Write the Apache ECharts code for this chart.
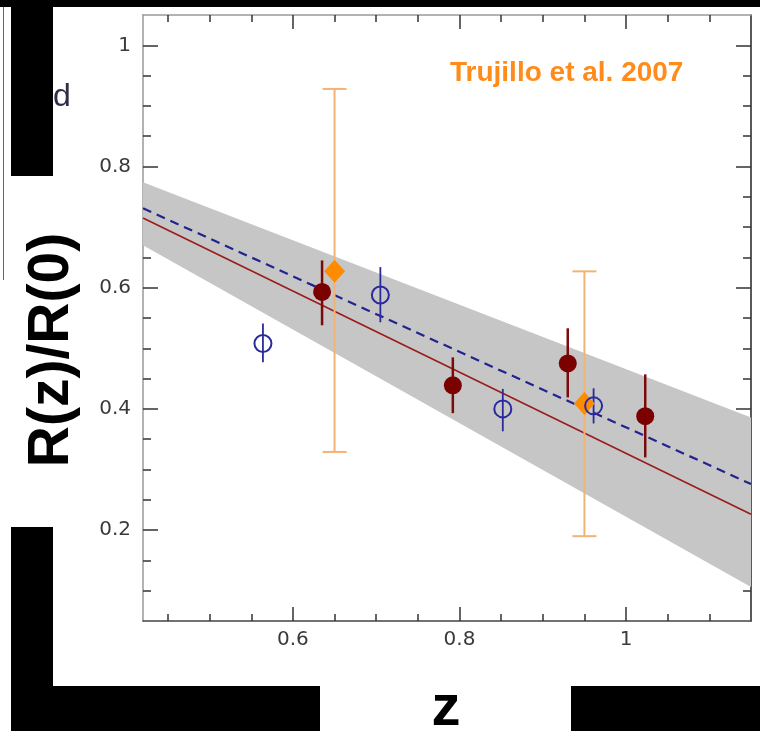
<!DOCTYPE html>
<html>
<head>
<meta charset="utf-8">
<script src="https://cdn.jsdelivr.net/npm/echarts@6/dist/echarts.min.js"></script>
<style>
  html, body { margin: 0; padding: 0; background: #fff; }
  #main { width: 760px; height: 731px; }
</style>
</head>
<body>
<div id="main"></div>
<script>
// axis ticks
var xMajor = [0.6, 0.8, 1];
var xMinor = [0.45, 0.5, 0.55, 0.65, 0.7, 0.75, 0.85, 0.9, 0.95, 1.05, 1.1];
var yMajor = [0.2, 0.4, 0.6, 0.8, 1];
var yMinor = [0.1, 0.15, 0.25, 0.3, 0.35, 0.45, 0.5, 0.55, 0.65, 0.7, 0.75, 0.85, 0.9, 0.95];

// grey band (fit uncertainty)
var bandZ = [0.42, 1.15];
var bandLo = [0.670, 0.106];
var bandHi = [0.774, 0.386];

// fits
var fitZ = [0.42, 1.15];
var fitRed = [0.715, 0.226];
var fitBlue = [0.731, 0.276];

// filled red points
var redZ = [0.635, 0.792, 0.930, 1.023];
var redR = [0.593, 0.439, 0.475, 0.388];
var redLo = [0.538, 0.393, 0.419, 0.320];
var redHi = [0.645, 0.485, 0.533, 0.457];

// open blue points
var blueZ = [0.564, 0.705, 0.852, 0.961];
var blueR = [0.508, 0.588, 0.400, 0.405];
var blueLo = [0.477, 0.543, 0.363, 0.376];
var blueHi = [0.541, 0.634, 0.433, 0.434];

// Trujillo et al. 2007
var orZ = [0.650, 0.950];
var orR = [0.627, 0.409];
var orLo = [0.329, 0.190];
var orHi = [0.928, 0.627];

var myChart = echarts.init(document.getElementById('main'));

function xAx(pos, ticks, len, lineColor, labels) {
    return {
        type: 'value', position: pos, min: 0.42, max: 1.15,
        axisLine: { show: lineColor != null, lineStyle: { color: lineColor || '#000', width: 1.5 } },
        axisTick: { inside: true, length: len, customValues: ticks, lineStyle: { color: '#333', width: 1.5 } },
        axisLabel: labels ? {
            customValues: ticks, margin: 9, color: '#3a3a3a',
            fontFamily: 'DejaVu Sans', fontSize: 20
        } : { show: false },
        splitLine: { show: false }
    };
}
function yAx(pos, ticks, len, lineColor, labels) {
    return {
        type: 'value', position: pos, min: 0.05, max: 1.05,
        axisLine: { show: lineColor != null, lineStyle: { color: lineColor || '#000', width: 1.5 } },
        axisTick: { inside: true, length: len, customValues: ticks, lineStyle: { color: '#333', width: 1.5 } },
        axisLabel: labels ? {
            customValues: ticks, margin: 12, color: '#3a3a3a',
            fontFamily: 'DejaVu Sans', fontSize: 20
        } : { show: false },
        splitLine: { show: false }
    };
}

function pairs(a, b) {
    return a.map(function (v, i) { return [v, b[i]]; });
}
function triples(a, lo, hi) {
    return a.map(function (v, i) { return [v, lo[i], hi[i]]; });
}

// vertical error bars, cap is half width in px (0 = none)
function errBars(data, color, width, cap) {
    return {
        type: 'custom',
        data: data,
        encode: { x: 0, y: [1, 2] },
        z: 3,
        renderItem: function (params, api) {
            var lo = api.coord([api.value(0), api.value(1)]);
            var hi = api.coord([api.value(0), api.value(2)]);
            var st = { stroke: color, lineWidth: width };
            var kids = [{ type: 'line', shape: { x1: lo[0], y1: lo[1], x2: hi[0], y2: hi[1] }, style: st }];
            if (cap) {
                kids.push({ type: 'line', shape: { x1: lo[0] - cap, y1: lo[1], x2: lo[0] + cap, y2: lo[1] }, style: st });
                kids.push({ type: 'line', shape: { x1: hi[0] - cap, y1: hi[1], x2: hi[0] + cap, y2: hi[1] }, style: st });
            }
            return { type: 'group', children: kids };
        }
    };
}

var option = {
    animation: false,
    backgroundColor: '#fff',
    grid: { left: 143, top: 15, right: 9, bottom: 110, containLabel: false },
    xAxis: [
        xAx('bottom', xMajor, 14, '#444', true),
        xAx('bottom', xMinor, 7, null, false),
        xAx('top', xMajor, 14, '#999', false),
        xAx('top', xMinor, 7, null, false)
    ],
    yAxis: [
        yAx('left', yMajor, 15, '#999', true),
        yAx('left', yMinor, 8, null, false),
        yAx('right', yMajor, 15, '#222', false),
        yAx('right', yMinor, 8, null, false)
    ],
    series: [
        {
            type: 'custom',
            data: triples(bandZ, bandLo, bandHi),
            encode: { x: 0, y: [1, 2] },
            z: 1,
            renderItem: function (params, api) {
                var i = params.dataIndex;
                if (i >= bandZ.length - 1) return;
                var pts = [
                    api.coord([bandZ[i], bandLo[i]]),
                    api.coord([bandZ[i + 1], bandLo[i + 1]]),
                    api.coord([bandZ[i + 1], bandHi[i + 1]]),
                    api.coord([bandZ[i], bandHi[i]])
                ];
                return { type: 'polygon', shape: { points: pts }, style: { fill: '#c6c6c6' } };
            }
        },
        {
            type: 'line', data: pairs(fitZ, fitRed), symbol: 'none', z: 2,
            lineStyle: { color: '#9a1c1c', width: 1.6 }
        },
        {
            type: 'line', data: pairs(fitZ, fitBlue), symbol: 'none', z: 2,
            lineStyle: { color: '#23238f', width: 2.2, type: [9, 6] }
        },
        errBars(triples(orZ, orLo, orHi), '#f3b373', 2, 12),
        {
            type: 'scatter', data: pairs(orZ, orR), symbol: 'diamond', symbolSize: [21, 23], z: 4,
            itemStyle: { color: '#ff8c00', opacity: 1 }
        },
        errBars(triples(redZ, redLo, redHi), '#7d0a0a', 2.5, 0),
        {
            type: 'scatter', data: pairs(redZ, redR), symbol: 'circle', symbolSize: 18, z: 4,
            itemStyle: { color: '#7b0000', opacity: 1 }
        },
        errBars(triples(blueZ, blueLo, blueHi), '#2a2a9c', 1.8, 0),
        {
            type: 'scatter', data: pairs(blueZ, blueR), symbol: 'circle', symbolSize: 17, z: 4,
            itemStyle: { color: 'rgba(0,0,0,0)', borderColor: '#2a2a9c', borderWidth: 2, opacity: 1 }
        }
    ],
    graphic: [
        { type: 'rect', shape: { x: 0, y: 0, width: 760, height: 7 }, style: { fill: '#000' } },
        { type: 'rect', shape: { x: 11, y: 0, width: 42, height: 176 }, style: { fill: '#000' } },
        { type: 'line', shape: { x1: 3.5, y1: 7, x2: 3.5, y2: 280 }, style: { stroke: '#666', lineWidth: 1 } },
        { type: 'rect', shape: { x: 11, y: 527, width: 42, height: 204 }, style: { fill: '#000' } },
        { type: 'rect', shape: { x: 11, y: 686, width: 309, height: 45 }, style: { fill: '#000' } },
        { type: 'rect', shape: { x: 571, y: 686, width: 189, height: 45 }, style: { fill: '#000' } },
        {
            type: 'text', x: 53, y: 97,
            style: { text: 'd', fill: '#2e2e48', font: '32px "Liberation Sans", Arial', align: 'left', verticalAlign: 'middle' }
        },
        {
            type: 'text', x: 450, y: 73,
            style: { text: 'Trujillo et al. 2007', fill: '#ff8c1a', font: 'bold 28px "Liberation Sans", Arial', align: 'left', verticalAlign: 'middle' }
        },
        {
            type: 'text', x: 52, y: 350, rotation: Math.PI / 2,
            style: { text: 'R(z)/R(0)', fill: '#000', font: 'bold 57px "Liberation Sans", Arial', align: 'center', verticalAlign: 'middle' }
        },
        {
            type: 'text', x: 446, y: 709,
            style: { text: 'z', fill: '#000', font: 'bold 58px "Liberation Sans", Arial', align: 'center', verticalAlign: 'middle' }
        }
    ]
};

myChart.setOption(option);
</script>
</body>
</html>
